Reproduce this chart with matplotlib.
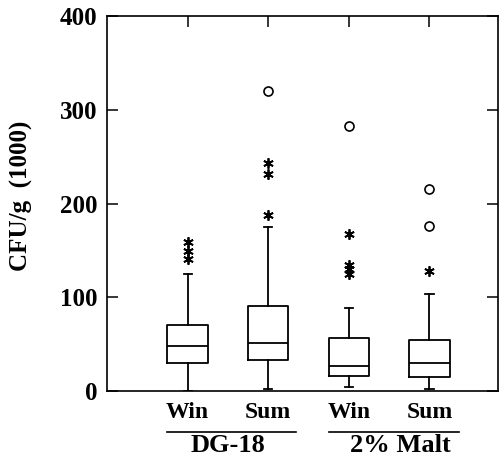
import numpy as np
import matplotlib
matplotlib.use("Agg")
import matplotlib.pyplot as plt
import matplotlib.transforms as mtransforms

# data (CFU/g x 1000)
labels = ["Win", "Sum", "Win", "Sum"]
groups = ["DG-18", "2% Malt"]
whislo = [0, 2, 4, 2]
q1 = [30, 33, 16, 15]
med = [48, 51, 27, 30]
q3 = [70, 91, 57, 55]
whishi = [125, 175, 89, 104]
stars = [[141, 149, 159], [188, 232, 243], [125, 130, 135, 168], [128]]
circles = [[], [320], [283], [176, 216]]

plt.rcParams["font.family"] = ["Liberation Serif", "DejaVu Serif"]
plt.rcParams["font.weight"] = "bold"

fig = plt.figure(figsize=(4.99, 4.59), dpi=100)
ax = fig.add_axes([0.2144, 0.148, 0.7836, 0.817])

pos = np.arange(1, len(labels) + 1)
stats = []
for i in range(len(labels)):
    stats.append({"whislo": whislo[i], "q1": q1[i], "med": med[i],
                  "q3": q3[i], "whishi": whishi[i], "fliers": []})

lw = 1.3
ax.bxp(stats, positions=pos, widths=0.5, showfliers=False, capwidths=0.1,
       boxprops=dict(color="black", linewidth=lw),
       medianprops=dict(color="black", linewidth=lw),
       whiskerprops=dict(color="black", linewidth=lw),
       capprops=dict(color="black", linewidth=lw))

for i in range(len(labels)):
    if stars[i]:
        ax.plot([pos[i]] * len(stars[i]), stars[i], linestyle="none",
                marker=(6, 2, 0), markersize=7.5, color="black", markeredgewidth=1.3)
    if circles[i]:
        ax.plot([pos[i]] * len(circles[i]), circles[i], linestyle="none",
                marker="o", markersize=6.5, markerfacecolor="white",
                markeredgecolor="black", markeredgewidth=1.2)

ax.set_xlim(0.0, 4.85)
ax.set_ylim(0, 400)
ax.set_yticks([0, 100, 200, 300, 400])
ax.set_xticks(pos)
ax.set_xticklabels(labels, fontsize=17, fontweight="bold")
for t in ax.get_yticklabels():
    t.set_fontsize(18)
    t.set_fontweight("bold")

ax.tick_params(axis="y", direction="in", length=8, width=1.1, pad=7,
               left=True, right=True)
ax.tick_params(axis="x", direction="in", length=8, width=1.1, pad=8,
               bottom=False, top=True)
for s in ax.spines.values():
    s.set_linewidth(1.2)

ax.set_ylabel("CFU/g  (1000)", fontsize=18, fontweight="bold")
ax.yaxis.set_label_coords(-0.19, 0.52)

# group underlines and labels
trans = mtransforms.blended_transform_factory(ax.transData, ax.transAxes)
spans = [(0.75, 2.35), (2.75, 4.37)]
centers = [1.5, 3.64]
for (a, b), c, g in zip(spans, centers, groups):
    ax.plot([a, b], [-0.1085, -0.1085], color="black", linewidth=1.2,
            transform=trans, clip_on=False)
    ax.text(c, -0.146, g, transform=trans, ha="center", va="center",
            fontsize=19, fontweight="bold")

fig.savefig("out.png", dpi=100)
